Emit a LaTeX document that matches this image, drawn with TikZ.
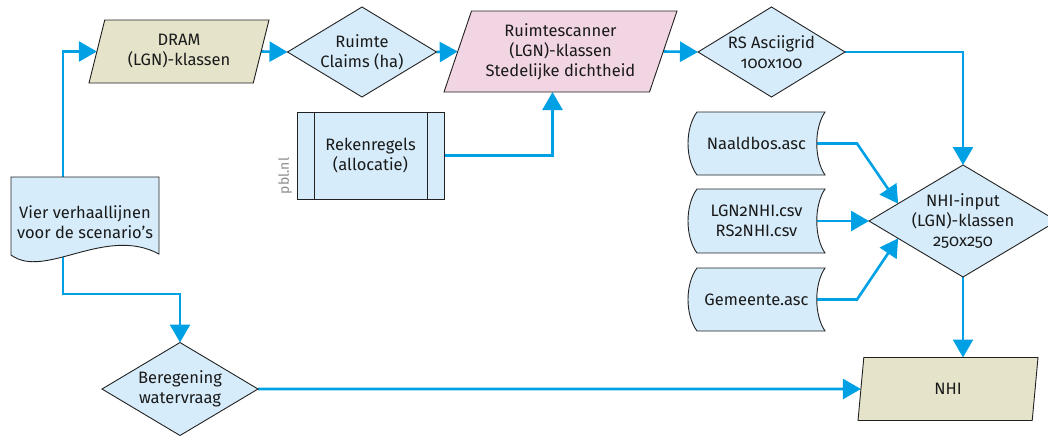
\documentclass[tikz,border=0pt]{standalone}
\usepackage{fontspec}
\setmainfont{Fira Sans}[Numbers=OldStyle]
\usetikzlibrary{arrows.meta,shapes.geometric,calc}

\definecolor{flowblue}{HTML}{00A1E4}
\definecolor{lightblue}{HTML}{D6ECFA}
\definecolor{tanfill}{HTML}{E5E4CB}
\definecolor{pinkfill}{HTML}{F1D5E3}
\definecolor{outline}{HTML}{222222}
\definecolor{textdark}{HTML}{1A1A1A}
\definecolor{credit}{HTML}{8C8C8C}

\pgfdeclarelayer{connectors}
\pgfdeclarelayer{outlines}
\pgfsetlayers{connectors,outlines,main}

% outline of a "stored data" box around a plain node
\newcommand{\storeoutline}[1]{%
  \draw[shapeline,fill=lightblue]
    ([xshift=9pt]#1.north west) -- (#1.north east)
    .. controls ([xshift=-11pt,yshift=-16pt]#1.north east) and ([xshift=-11pt,yshift=16pt]#1.south east) .. (#1.south east)
    -- ([xshift=9pt]#1.south west)
    .. controls ([xshift=-3pt,yshift=16pt]#1.south west) and ([xshift=-3pt,yshift=-16pt]#1.north west) .. ([xshift=9pt]#1.north west)
    -- cycle;}

\begin{document}
\begin{tikzpicture}[x=1pt,y=-1pt,
  every node/.style={font=\fontsize{16.5}{20}\selectfont, text=textdark, align=center, outer sep=0pt},
  shapeline/.style={draw=outline, line width=0.9pt},
  decision/.style={shapeline, fill=lightblue, shape=diamond, shape aspect=1.65, inner sep=-10pt},
  dataio/.style={shapeline, shape=trapezium, trapezium stretches body, inner sep=0pt},
  plainbox/.style={shape=rectangle, inner sep=0pt},
  flow/.style={draw=flowblue, line width=2.6pt, -{Triangle[length=18pt,width=20pt]}},
]
\useasboundingbox (0,0) rectangle (1048,437);

% top row
\node[dataio, fill=tanfill, minimum width=180pt, minimum height=63pt,
      trapezium left angle=65, trapezium right angle=115] (dram) at (179,51.5) {DRAM\\(LGN)-klassen};
\node[decision, minimum width=149pt, minimum height=90pt] (claims) at (362,52) {Ruimte\\Claims (ha)};
\node[dataio, fill=pinkfill, minimum width=233pt, minimum height=81pt,
      trapezium left angle=64, trapezium right angle=116] (scan) at (560.5,51.5) {Ruimtescanner\\(LGN)-klassen\\Stedelijke dichtheid};
\node[decision, minimum width=147pt, minimum height=90pt] (grid) at (771.5,52) {RS Asciigrid\\100x100};

% allocation rules (predefined process)
\node[plainbox, shapeline, fill=lightblue, minimum width=147pt, minimum height=87pt] (rek) at (370.5,155.5) {Rekenregels\\(allocatie)};
\draw[shapeline] ([xshift=17pt]rek.north west) -- ([xshift=17pt]rek.south west);
\draw[shapeline] ([xshift=-17pt]rek.north east) -- ([xshift=-17pt]rek.south east);
\node[rotate=90, text=credit, font=\fontsize{14}{16}\selectfont] (pbl) at (285,176) {pbl.nl};

% storylines (document)
\node[plainbox, minimum width=148pt, minimum height=90pt] (vier) at (85,222) {Vier verhaallijnen\\voor de scenario’s};
\begin{pgfonlayer}{outlines}
\draw[shapeline, fill=lightblue] (vier.north west) -- (vier.north east) -- ([yshift=13pt]vier.south east)
  .. controls (105,225) and (45,280) .. ([yshift=12pt]vier.south west) -- cycle;
\end{pgfonlayer}

% data files
\node[plainbox, minimum width=137pt, minimum height=63pt] (nb) at (756.5,143.5) {Naaldbos.asc};
\node[plainbox, minimum width=137pt, minimum height=64pt] (lgn) at (756.5,221) {LGN2NHI.csv\\RS2NHI.csv};
\node[plainbox, minimum width=137pt, minimum height=63pt] (gem) at (756.5,299.5) {Gemeente.asc};
\begin{pgfonlayer}{outlines}
\storeoutline{nb}
\storeoutline{lgn}
\storeoutline{gem}
\end{pgfonlayer}

% model input and output
\node[decision, minimum width=188pt, minimum height=112pt] (nhiin) at (963,221) {NHI-input\\(LGN)-klassen\\250x250};
\node[dataio, fill=tanfill, minimum width=180pt, minimum height=63pt,
      trapezium left angle=63, trapezium right angle=117] (nhi) at (948,389) {NHI};
\node[decision, minimum width=156pt, minimum height=93pt] (ber) at (180,389) {Beregening\\watervraag};

% connectors
\begin{pgfonlayer}{connectors}
\draw[flow] ([xshift=-22pt]vier.center) |- (dram.west);
\draw[flow] (dram.east) -- (claims.west);
\draw[flow] (claims.east) -- (scan.west);
\draw[flow] (scan.east) -- (grid.west);
\draw[flow] (grid.east) -| (nhiin.north);
\draw[flow] (rek.east) -| ([xshift=-8pt]scan.south);
\draw[flow] (nb.center) -- ($(nb.east)+(32,0)$) -- ($(nhiin.west)!0.31!(nhiin.north)$);
\draw[flow] (lgn.center) -- (nhiin.west);
\draw[flow] (gem.center) -- ($(gem.east)+(32,0)$) -- ($(nhiin.west)!0.31!(nhiin.south)$);
\draw[flow] (nhiin.south) -- (nhiin.south |- nhi.north);
\draw[flow] (ber.east) -- (nhi.west);
\draw[flow] ([xshift=-22pt]vier.center) -- ++(0,72) -| (ber.north);
\end{pgfonlayer}
\end{tikzpicture}
\end{document}
